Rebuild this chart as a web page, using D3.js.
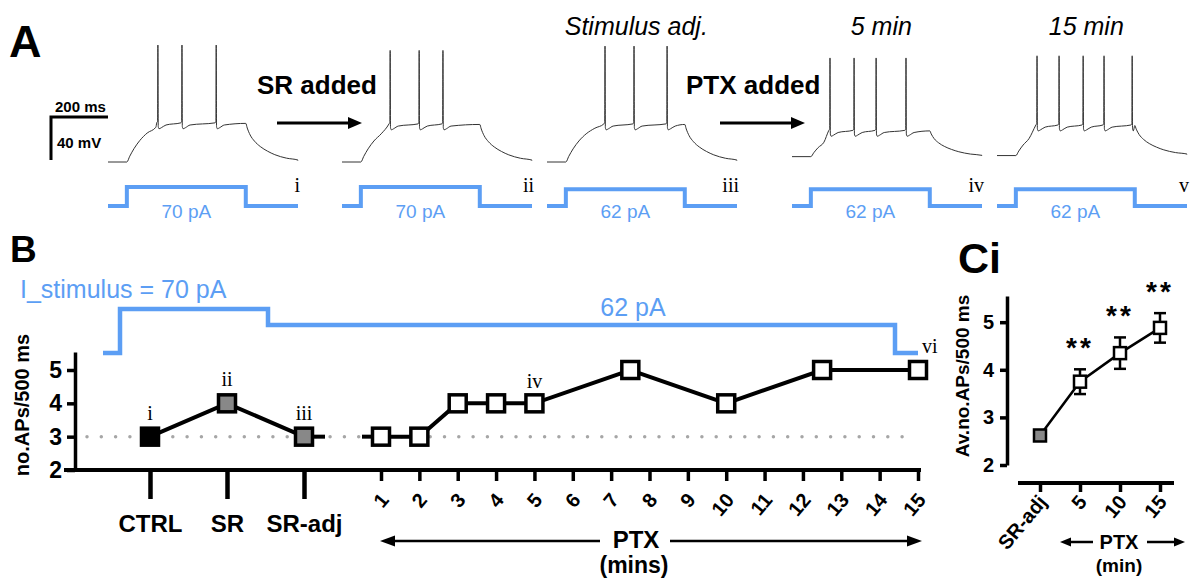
<!DOCTYPE html>
<html>
<head>
<meta charset="utf-8">
<script src="https://cdn.jsdelivr.net/npm/d3@7"></script>
<style>
  body { margin: 0; background: #fff; }
  svg { display: block; font-family: "Liberation Sans", Arial, sans-serif; }
</style>
</head>
<body>
<svg id="fig" width="1194" height="580"></svg>
<script>
// ---------- panel A: example sweeps ----------
const traceIds = ['i', 'ii', 'iii', 'iv', 'v']
const traceTitles = ['', '', 'Stimulus adj.', '5 min', '15 min']
const stimPA = [70, 70, 62, 62, 62]
const restMv = [-70, -70, -70, -65, -64]
const plateauMv = [-34, -35, -35, -41, -36]
const peakMv = [39, 34, 38, 27, 29]
const spikeMs = [
  [172, 255, 373],
  [166, 266, 348],
  [200, 300, 414],
  [131, 214, 290, 393],
  [138, 214, 297, 369, 466]
]
const stimOnMs = 65
const stimOffMs = 475
const sweepMs = 655
const riseShape = [[0, 0], [10, 0.15], [25, 0.35], [45, 0.56], [70, 0.75], [100, 0.9], [130, 0.97], [170, 1]]
const decayShape = [[0, 0], [5, 0.12], [15, 0.3], [30, 0.46], [50, 0.6], [75, 0.72], [100, 0.81], [140, 0.9], [180, 0.95]]
// ms from spike peak, mV from plateau (null = peak)
const spikeShape = [[-4, 0.5], [-1, 2], [0, null], [1.2, -3], [4, -5], [12, -4], [28, -1.5]]

// ---------- panel B: APs per 500 ms ----------
const ctrlCats = ['CTRL', 'SR', 'SR-adj']
const ctrlAPs = [3, 4, 3]
const ctrlFill = ['#000', '#888', '#888']
const ctrlMarks = ['i', 'ii', 'iii']
const ptxMin = [1, 2, 3, 4, 5, 7.5, 10, 12.5, 15]
const ptxAPs = [3, 3, 4, 4, 4, 5, 4, 5, 5]
const ptxTicks = [1, 2, 3, 4, 5, 6, 7, 8, 9, 10, 11, 12, 13, 14, 15]
const yTicksB = [2, 3, 4, 5]
const stimBLevels = ['off', '70', '62', 'off']

// ---------- panel Ci: average APs ----------
const cCats = ['SR-adj', '5', '10', '15']
const cMean = [2.62, 3.75, 4.35, 4.88]
const cSem = [0.1, 0.26, 0.33, 0.31]
const cStars = ['', '**', '**', '**']
const yTicksC = [2, 3, 4, 5]

const blue = '#5c9ef4'
const sans = '"Liberation Sans", Arial, sans-serif'
const serif = '"Liberation Serif", "DejaVu Serif", serif'
const svg = d3.select('#fig')
svg.append('rect').attr('width', 1194).attr('height', 580).attr('fill', '#fff')

const arrow = (g, x1, x2, y, head, hw, sw) => {
  const dir = x2 > x1 ? 1 : -1
  g.append('line')
    .attr('x1', x1).attr('x2', x2 - dir * head * 0.8)
    .attr('y1', y).attr('y2', y)
    .attr('stroke', '#000').attr('stroke-width', sw)
  g.append('path')
    .attr('d', `M${x2},${y} L${x2 - dir * head},${y - hw / 2} L${x2 - dir * head},${y + hw / 2} Z`)
    .attr('fill', '#000')
}

// ---------- draw A ----------
const A = svg.append('g')
A.append('text').attr('x', 9).attr('y', 57).attr('font-size', 45).attr('font-weight', 'bold').text('A')

const traceX0 = [108, 342, 547, 792, 997]
const traceW = 190
const yV = d3.scaleLinear().domain([-70, 40]).range([162, 44])
const yStim = d3.scaleLinear().domain([0, 70]).range([206, 187])

const buildTrace = k => {
  const rest = restMv[k], plat = plateauMv[k], spikes = spikeMs[k]
  const pts = [[0, rest], [stimOnMs, rest]]
  riseShape.forEach(([dt, f]) => {
    const t = stimOnMs + dt
    if (t < spikes[0] - 5) pts.push([t, rest + f * (plat - rest)])
  })
  spikes.forEach((ts, i) => {
    const next = i < spikes.length - 1 ? spikes[i + 1] - 5 : stimOffMs
    spikeShape.forEach(([dt, dv]) => {
      const t = ts + dt
      if (dt < 0 || t < next) pts.push([t, dv === null ? peakMv[k] : plat + dv])
    })
  })
  decayShape.forEach(([dt, f]) => pts.push([stimOffMs + dt, plat + f * (rest - plat)]))
  pts.push([sweepMs, rest + (plat - rest) * 0.04])
  return pts
}

traceIds.forEach((id, k) => {
  const xs = d3.scaleLinear().domain([0, sweepMs]).range([traceX0[k], traceX0[k] + traceW])
  const vLine = d3.line().x(d => xs(d[0])).y(d => yV(d[1])).curve(d3.curveMonotoneX)
  A.append('path').attr('d', vLine(buildTrace(k)))
    .attr('fill', 'none').attr('stroke', '#333').attr('stroke-width', 1)

  const stimPts = [[0, 0], [stimOnMs, 0], [stimOnMs, stimPA[k]], [stimOffMs, stimPA[k]], [stimOffMs, 0], [sweepMs, 0]]
  A.append('path')
    .attr('d', d3.line().x(d => xs(d[0])).y(d => yStim(d[1]))(stimPts))
    .attr('fill', 'none').attr('stroke', blue).attr('stroke-width', 4)
  A.append('text').attr('x', xs((stimOnMs + stimOffMs) / 2)).attr('y', 218)
    .attr('text-anchor', 'middle').attr('font-size', 19).attr('fill', blue)
    .text(stimPA[k] + ' pA')
  A.append('text').attr('x', xs(sweepMs) + 2).attr('y', 192)
    .attr('text-anchor', 'end').attr('font-size', 20).attr('font-family', serif)
    .text(id)
  if (traceTitles[k]) {
    A.append('text').attr('x', xs(sweepMs * 0.47)).attr('y', 35)
      .attr('text-anchor', 'middle').attr('font-size', 25).attr('font-style', 'italic')
      .text(traceTitles[k])
  }
})

// scale bar
A.append('path').attr('d', 'M108,117 H51 V160').attr('fill', 'none')
  .attr('stroke', '#000').attr('stroke-width', 3)
A.append('text').attr('x', 55).attr('y', 112).attr('font-size', 15).attr('font-weight', 'bold').text('200 ms')
A.append('text').attr('x', 57).attr('y', 148).attr('font-size', 15).attr('font-weight', 'bold').text('40 mV')

A.append('text').attr('x', 257).attr('y', 94).attr('font-size', 26).attr('font-weight', 'bold').text('SR added')
arrow(A, 277, 362, 123, 14, 12, 3)
A.append('text').attr('x', 686).attr('y', 94).attr('font-size', 26).attr('font-weight', 'bold').text('PTX added')
arrow(A, 720, 805, 123, 14, 12, 3)

// ---------- draw B ----------
const B = svg.append('g')
B.append('text').attr('x', 10).attr('y', 262).attr('font-size', 37).attr('font-weight', 'bold').text('B')

const xCat = d3.scalePoint().domain(ctrlCats).range([150, 304])
const xPtx = d3.scaleLinear().domain([1, 15]).range([381, 918])
const yB = d3.scaleLinear().domain([2, 5.54]).range([470, 352])

// stimulus schematic
const stimBY = d3.scaleOrdinal().domain(['off', '62', '70']).range([353, 325, 309])
const stimBEdges = [103, 120, 268, 895, 918]
let stimD = `M${stimBEdges[0]},${stimBY(stimBLevels[0])}`
stimBLevels.forEach((lv, i) => {
  stimD += ` V${stimBY(lv)} H${stimBEdges[i + 1]}`
})
B.append('path').attr('d', stimD).attr('fill', 'none').attr('stroke', blue).attr('stroke-width', 4.5)
B.append('text').attr('x', 20).attr('y', 298).attr('font-size', 25).attr('fill', blue).text('I_stimulus = 70 pA')
B.append('text').attr('x', 633).attr('y', 316).attr('text-anchor', 'middle').attr('font-size', 25).attr('fill', blue).text('62 pA')
B.append('text').attr('x', 922).attr('y', 353).attr('font-size', 20).attr('font-family', serif).text('vi')

// baseline dotted
B.append('line').attr('x1', 87).attr('x2', 914).attr('y1', yB(3)).attr('y2', yB(3))
  .attr('stroke', '#a6a6a6').attr('stroke-width', 3.5).attr('stroke-linecap', 'round')
  .attr('stroke-dasharray', '0 14.3')

// axes
const yAxB = B.append('g').attr('transform', 'translate(75,0)')
  .call(d3.axisLeft(yB).tickValues(yTicksB).tickFormat(d3.format('d'))
    .tickSize(8).tickPadding(5).tickSizeOuter(0))
yAxB.select('.domain').attr('stroke-width', 3.5)
yAxB.selectAll('.tick line').attr('stroke-width', 3.5)
yAxB.selectAll('text').attr('font-size', 23).attr('font-weight', 'bold').attr('font-family', sans)

B.append('line').attr('x1', 64).attr('x2', 921).attr('y1', 470).attr('y2', 470)
  .attr('stroke', '#000').attr('stroke-width', 4)
const xAxCat = B.append('g').attr('transform', 'translate(0,470)')
  .call(d3.axisBottom(xCat).tickSize(29).tickSizeOuter(0))
xAxCat.select('.domain').remove()
xAxCat.selectAll('.tick line').attr('stroke-width', 4.5)
xAxCat.selectAll('text').attr('y', 62).attr('dy', 0).attr('font-size', 24)
  .attr('font-weight', 'bold').attr('font-family', sans)

const xAxPtx = B.append('g').attr('transform', 'translate(0,470)')
  .call(d3.axisBottom(xPtx).tickValues(ptxTicks).tickSize(11).tickSizeOuter(0).tickFormat(d3.format('d')))
xAxPtx.select('.domain').remove()
xAxPtx.selectAll('.tick line').attr('stroke-width', 3.5)
xAxPtx.selectAll('text').attr('x', 0).attr('y', 0).attr('dy', '0.35em')
  .attr('text-anchor', 'end').attr('transform', 'translate(3,26) rotate(-50)')
  .attr('font-size', 20).attr('font-weight', 'bold').attr('font-family', sans)

B.append('text').attr('transform', 'translate(29,405) rotate(-90)').attr('text-anchor', 'middle')
  .attr('font-size', 20).attr('font-weight', 'bold').text('no.APs/500 ms')

arrow(B, 600, 380, 541, 15, 11, 2.5)
arrow(B, 670, 922, 541, 15, 11, 2.5)
B.append('text').attr('x', 636).attr('y', 548).attr('text-anchor', 'middle')
  .attr('font-size', 24).attr('font-weight', 'bold').text('PTX')
B.append('text').attr('x', 634).attr('y', 573).attr('text-anchor', 'middle')
  .attr('font-size', 23).attr('font-weight', 'bold').text('(mins)')

// data lines
const lineCtrl = d3.line().x((d, i) => xCat(ctrlCats[i])).y(d => yB(d))
B.append('path').attr('d', lineCtrl(ctrlAPs)).attr('fill', 'none').attr('stroke', '#000').attr('stroke-width', 4)
B.append('line').attr('x1', xCat('SR-adj')).attr('x2', xCat('SR-adj') + 21)
  .attr('y1', yB(ctrlAPs[2])).attr('y2', yB(ctrlAPs[2])).attr('stroke', '#000').attr('stroke-width', 4)
B.append('line').attr('x1', xPtx(ptxMin[0]) - 19).attr('x2', xPtx(ptxMin[0]))
  .attr('y1', yB(ptxAPs[0])).attr('y2', yB(ptxAPs[0])).attr('stroke', '#000').attr('stroke-width', 4)
const linePtx = d3.line().x((d, i) => xPtx(ptxMin[i])).y(d => yB(d))
B.append('path').attr('d', linePtx(ptxAPs)).attr('fill', 'none').attr('stroke', '#000').attr('stroke-width', 4)

const sqB = 17
B.selectAll('rect.ctrl').data(ctrlAPs).enter().append('rect').attr('class', 'ctrl')
  .attr('x', (d, i) => xCat(ctrlCats[i]) - sqB / 2).attr('y', d => yB(d) - sqB / 2)
  .attr('width', sqB).attr('height', sqB)
  .attr('fill', (d, i) => ctrlFill[i]).attr('stroke', '#000').attr('stroke-width', 3.5)
B.selectAll('rect.ptx').data(ptxAPs).enter().append('rect').attr('class', 'ptx')
  .attr('x', (d, i) => xPtx(ptxMin[i]) - sqB / 2).attr('y', d => yB(d) - sqB / 2)
  .attr('width', sqB).attr('height', sqB)
  .attr('fill', '#fff').attr('stroke', '#000').attr('stroke-width', 3.5)

B.selectAll('text.mk').data(ctrlAPs).enter().append('text').attr('class', 'mk')
  .attr('x', (d, i) => xCat(ctrlCats[i])).attr('y', d => yB(d) - 17)
  .attr('text-anchor', 'middle').attr('font-size', 20).attr('font-family', serif)
  .text((d, i) => ctrlMarks[i])
B.append('text').attr('x', xPtx(5)).attr('y', yB(ptxAPs[4]) - 15)
  .attr('text-anchor', 'middle').attr('font-size', 20).attr('font-family', serif).text('iv')

// ---------- draw Ci ----------
const C = svg.append('g')
C.append('text').attr('x', 958).attr('y', 273).attr('font-size', 43).attr('font-weight', 'bold').text('Ci')

const xC = d3.scalePoint().domain(cCats).range([1040, 1160])
const yC = d3.scaleLinear().domain([2, 5.55]).range([465, 296])

const yAxC = C.append('g').attr('transform', 'translate(1007,0)')
  .call(d3.axisLeft(yC).tickValues(yTicksC).tickFormat(d3.format('d'))
    .tickSize(7).tickPadding(6).tickSizeOuter(0))
yAxC.select('.domain').attr('stroke-width', 3.5)
yAxC.selectAll('.tick line').attr('stroke-width', 3.5)
yAxC.selectAll('text').attr('font-size', 20).attr('font-weight', 'bold').attr('font-family', sans)

C.append('line').attr('x1', 1018).attr('x2', 1174).attr('y1', 483).attr('y2', 483)
  .attr('stroke', '#000').attr('stroke-width', 4)
const xAxC = C.append('g').attr('transform', 'translate(0,483)')
  .call(d3.axisBottom(xC).tickSize(9).tickSizeOuter(0))
xAxC.select('.domain').remove()
xAxC.selectAll('.tick line').attr('stroke-width', 3.5)
xAxC.selectAll('text').attr('x', 0).attr('y', 0).attr('dy', '0.35em')
  .attr('text-anchor', 'end').attr('transform', 'translate(2,15) rotate(-50)')
  .attr('font-size', 20).attr('font-weight', 'bold').attr('font-family', sans)

C.append('text').attr('transform', 'translate(969,376) rotate(-90)').attr('text-anchor', 'middle')
  .attr('font-size', 19).attr('font-weight', 'bold').text('Av.no.APs/500 ms')

arrow(C, 1093, 1060, 542, 11, 9, 2.5)
arrow(C, 1147, 1185, 542, 11, 9, 2.5)
C.append('text').attr('x', 1119).attr('y', 549).attr('text-anchor', 'middle')
  .attr('font-size', 20).attr('font-weight', 'bold').text('PTX')
C.append('text').attr('x', 1119).attr('y', 572).attr('text-anchor', 'middle')
  .attr('font-size', 19).attr('font-weight', 'bold').text('(min)')

C.append('path').attr('d', d3.line().x((d, i) => xC(cCats[i])).y(d => yC(d))(cMean))
  .attr('fill', 'none').attr('stroke', '#000').attr('stroke-width', 2.5)
cMean.forEach((m, i) => {
  const x = xC(cCats[i])
  const g = C.append('g')
  g.append('line').attr('x1', x).attr('x2', x).attr('y1', yC(m - cSem[i])).attr('y2', yC(m + cSem[i]))
    .attr('stroke', '#000').attr('stroke-width', 2.5)
  ;[m - cSem[i], m + cSem[i]].forEach(v => g.append('line')
    .attr('x1', x - 6).attr('x2', x + 6).attr('y1', yC(v)).attr('y2', yC(v))
    .attr('stroke', '#000').attr('stroke-width', 2.5))
  g.append('rect').attr('x', x - 6).attr('y', yC(m) - 6).attr('width', 12).attr('height', 12)
    .attr('fill', i === 0 ? '#888' : '#fff').attr('stroke', '#000').attr('stroke-width', 2.5)
  if (cStars[i]) {
    C.append('text').attr('x', x).attr('y', yC(m + cSem[i]) - 12)
      .attr('text-anchor', 'middle').attr('font-size', 28).attr('font-weight', 'bold')
      .attr('letter-spacing', 3).text(cStars[i])
  }
})
</script>
</body>
</html>
